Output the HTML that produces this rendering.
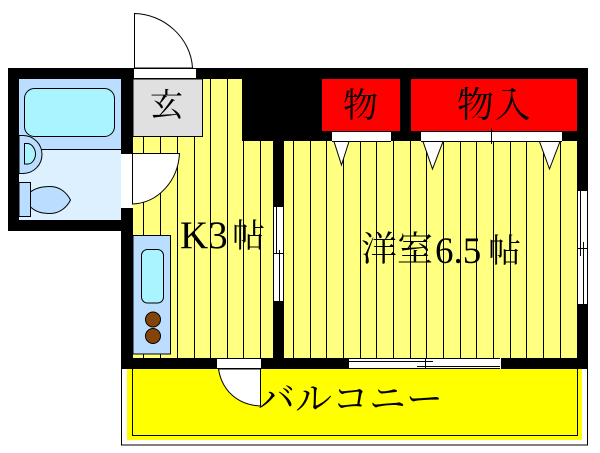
<!DOCTYPE html>
<html><head><meta charset="utf-8">
<style>html,body{margin:0;padding:0;background:#fff}svg{display:block}
text{font-family:"Liberation Serif","Noto Serif CJK JP",serif;fill:#000}</style></head>
<body>
<svg width="600" height="453" viewBox="0 0 600 453" xmlns="http://www.w3.org/2000/svg">
<rect width="600" height="453" fill="#fff"/>
<!-- balcony -->
<rect x="121.5" y="365" width="466" height="80" fill="#fff" stroke="#000"/>
<rect x="127" y="369" width="455" height="71" fill="#ff0"/>
<rect x="132.5" y="365" width="445" height="70.5" fill="none" stroke="#000"/>
<!-- walls -->
<path d="M8 68H588V369H121V231H8Z" fill="#000"/>
<!-- yellow rooms -->
<rect x="133" y="79" width="109" height="279" fill="#ffff80"/>
<rect x="240" y="141" width="33" height="217" fill="#ffff80"/>
<rect x="284" y="141" width="293" height="217" fill="#ffff80"/>
<g stroke="#000" stroke-width="1">
<path d="M143.5 136V358M160.5 136V358M177.5 136V358M194.5 136V358M210.5 79V358M227.5 79V358M243.5 141V358M260.5 141V358"/>
<path d="M293.5 141V358M310.5 141V358M326.5 141V358M343.5 141V358M360.5 141V358M376.5 141V358M393.5 141V358M410.5 141V358M426.5 141V358M443.5 141V358M460.5 141V358M476.5 141V358M493.5 141V358M510.5 141V358M526.5 141V358M543.5 141V358M560.5 141V358"/>
</g>
<!-- bath -->
<rect x="19" y="79" width="102" height="70" fill="#bbddff"/>
<rect x="19" y="149" width="102" height="71" fill="#ddf0ff"/>
<path d="M19 149.5H121" stroke="#000"/>
<rect x="24.5" y="88.5" width="90" height="48" rx="10" fill="#aaf4ff" stroke="#000"/>
<path d="M19 135.5H23A19 19 0 0 1 23 173.500H19Z" fill="#bbddff" stroke="#000"/>
<path d="M24.5 143.500H28C32 144 35.500 149 35.500 154C35.500 159 32 164 28 164H24.500Z" fill="#aaf4ff" stroke="#000"/>
<path d="M30.500 192C36 187.500 43 186.500 50 186.500C60 186.500 67 193 70.500 200C67 207 60 213.500 50 213.500C42 213.500 36 212 30.500 207Z" fill="#bbddff" stroke="#000"/>
<rect x="19" y="182.500" width="11.500" height="34" fill="#bbddff" stroke="#000"/>
<rect x="8" y="170" width="11" height="60" fill="#000"/>
<!-- genkan -->
<rect x="133" y="79" width="69.500" height="57.500" fill="#e0e0e0" stroke="#000"/>
<rect x="133" y="68" width="69.500" height="11" fill="#000"/>
<rect x="134" y="68.500" width="62" height="10" fill="#fff"/>
<path d="M134 78.500H196M134 68.500H196" stroke="#000"/>
<path d="M134.500 68V13.500C164 14 191 38 192.500 68Z" fill="#fff" stroke="#000"/>
<!-- inner door -->
<rect x="121" y="153" width="12" height="55" fill="#fff"/>
<path d="M121 153.500H133" stroke="#000"/>
<path d="M132.500 153.500H179.500C178 181 158 203 132.500 204Z" fill="#fff" stroke="#000"/>
<!-- kitchen -->
<rect x="133" y="235.500" width="37.500" height="118.500" fill="#bbddff" stroke="#000"/>
<rect x="141.500" y="249.500" width="22" height="53.500" rx="6" fill="#aaf4ff" stroke="#000"/>
<circle cx="153" cy="319.500" r="7.500" fill="#844409" stroke="#000"/>
<circle cx="153" cy="336" r="7.500" fill="#844409" stroke="#000"/>
<!-- closets -->
<rect x="322" y="79" width="78" height="52" fill="#f00"/>
<rect x="411" y="79" width="166" height="52" fill="#f00"/>
<rect x="332" y="131.500" width="59" height="9.500" fill="#fff"/>
<rect x="421" y="131.500" width="141" height="9.500" fill="#fff"/>
<path d="M332 131.500H391M421 131.500H562M332 141.500H391M421 141.500H562M491.500 128V144" stroke="#000"/>
<path d="M334 141.500H349L341.500 165Z" fill="#fff" stroke="#000"/>
<path d="M423 141.500H443L432.500 169Z" fill="#fff" stroke="#000"/>
<path d="M539.500 141.500H560L549.500 169Z" fill="#fff" stroke="#000"/>
<!-- side windows -->
<rect x="274" y="206" width="10" height="96" fill="#fff"/>
<path d="M273.500 206V302M276.500 206V254M279.500 250V302M283.500 206V302M273.500 253.500H284M273.500 206.500H284M273.500 301.500H284" stroke="#000"/>
<rect x="578" y="190" width="10" height="115" fill="#fff"/>
<path d="M577.500 190V305M580.500 190V256M583.500 242V305M587.500 190V305M577.500 248.500H588M577.500 190.500H588M577.500 304.500H588" stroke="#000"/>
<!-- bottom window -->
<rect x="349" y="359" width="151" height="10" fill="#fff"/>
<path d="M349 358.500H500M349 368.500H500M349 361.500H433M417 366.500H500M425.500 358V369" stroke="#000"/>
<rect x="500" y="358" width="1" height="11" fill="#fff"/>
<!-- balcony door -->
<rect x="217" y="359" width="44" height="10" fill="#fff"/>
<path d="M217 368.500H261M217 358.500H261" stroke="#000"/>
<path d="M218.500 369C222 391 238 405 260.500 406V369Z" fill="#fff" stroke="#000"/>
<!-- labels -->
<text x="150" y="116" font-size="32" textLength="33" lengthAdjust="spacingAndGlyphs">玄</text>
<text x="343" y="117" font-size="34" textLength="35" lengthAdjust="spacingAndGlyphs">物</text>
<text x="457" y="117" font-size="36" textLength="74" lengthAdjust="spacingAndGlyphs">物入</text>
<text x="361" y="261" font-size="35" textLength="72" lengthAdjust="spacingAndGlyphs">洋室</text>
<text x="435" y="263" font-size="37">6.5</text>
<text x="488" y="262" font-size="33">帖</text>
<text x="180" y="248" font-size="39">K3</text>
<text x="232" y="247" font-size="33">帖</text>
<text x="258" y="411" font-size="36" textLength="185" lengthAdjust="spacingAndGlyphs">バルコニー</text>
</svg>
</body></html>
